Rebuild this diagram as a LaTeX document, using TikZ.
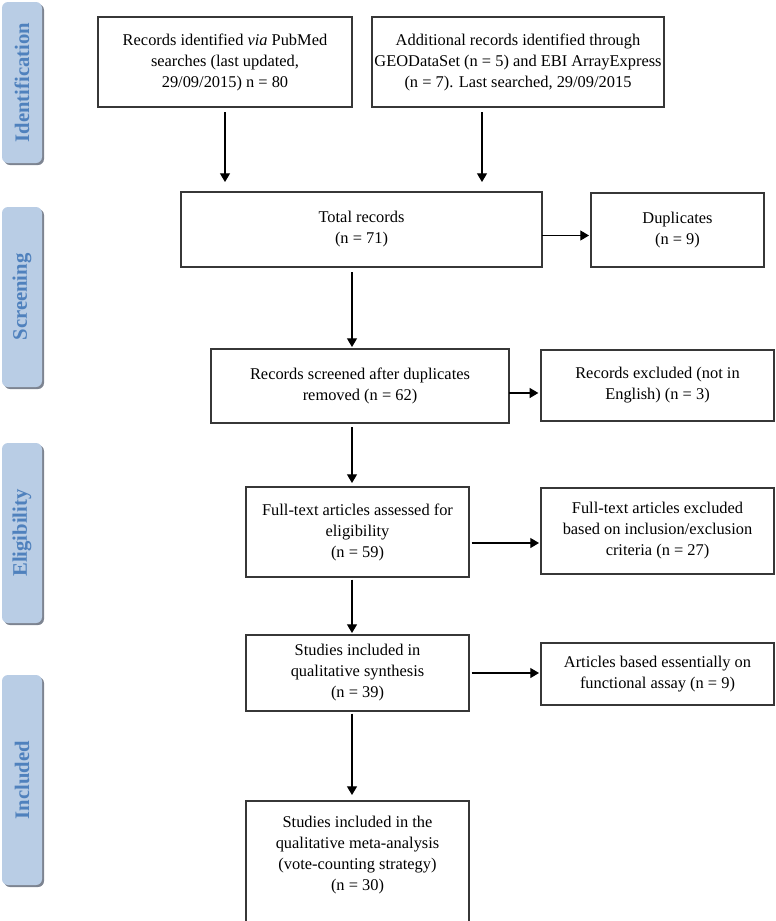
\documentclass[tikz,border=0pt]{standalone}
\usepackage{fontspec}
\setmainfont{Liberation Serif}
\usetikzlibrary{arrows.meta,shadows}

\definecolor{tabfill}{RGB}{185,205,229}
\definecolor{tabtext}{RGB}{79,129,189}
\definecolor{tabshade}{RGB}{125,132,145}
\definecolor{boxline}{RGB}{55,55,55}

\tikzset{
  flowframe/.style={draw=boxline, line width=0.9pt, inner sep=0pt, outer sep=0pt,
    font=\fontsize{12.3pt}{15.75pt}\selectfont},
  flowbox/.style={flowframe, align=center},
  phasetab/.style={fill=tabfill, rounded corners=4.5pt, minimum width=30pt, inner sep=0pt,
    text=tabtext, font=\fontsize{15.5pt}{18pt}\selectfont\bfseries,
    drop shadow={shadow xshift=1.5pt, shadow yshift=-1.5pt, fill=tabshade, opacity=1}},
  flowarrow/.style={-{Triangle[length=6.5pt,width=7.5pt]}, line width=0.8pt, black},
}

\begin{document}
\begin{tikzpicture}[x=0.75pt, y=-0.75pt]
\useasboundingbox (0,0) rectangle (775,921);
\clip (0,0) rectangle (775,921);

% phase tabs
\node[phasetab, minimum height=120.75pt] (ident) at (22,82.5) {\rotatebox{90}{Identification}};
\node[phasetab, minimum height=135pt] (screen) at (22,297) {\rotatebox{90}{Screening}};
\node[phasetab, minimum height=135pt] (elig) at (22,533) {\rotatebox{90}{Eligibility}};
\node[phasetab, minimum height=157.5pt] (incl) at (22,780) {\rotatebox{90}{Included}};

% identification
\node[flowbox, minimum width=190.5pt, minimum height=67.5pt] (pubmed) at (225,62)
  {Records identified \textit{via} PubMed\\ searches (last updated,\\ 29/09/2015) n = 80};
\node[flowbox, minimum width=219pt, minimum height=67.5pt] (addl) at (518,62)
  {Additional records identified through\\ GEODataSet (n = 5) and EBI ArrayExpress\\ (n = 7). Last searched, 29/09/2015};

% screening
\node[flowbox, minimum width=270.75pt, minimum height=56.25pt] (total) at (361.5,229.5)
  {Total records\\ (n = 71)};
\node[flowbox, minimum width=129.75pt, minimum height=55.5pt] (dupl) at (677.5,230)
  {Duplicates\\ (n = 9)};
\node[flowbox, minimum width=223.5pt, minimum height=55.5pt] (screened) at (360,386)
  {Records screened after duplicates\\ removed (n = 62)};
\node[flowbox, minimum width=174.75pt, minimum height=53.25pt] (notEng) at (657.5,385.5)
  {Records excluded (not in\\ English) (n = 3)};

% eligibility
\node[flowbox, minimum width=167.25pt, minimum height=67.5pt] (fulltext) at (357.5,532)
  {Full-text articles assessed for\\ eligibility\\ (n = 59)};
\node[flowbox, minimum width=174.75pt, minimum height=64.5pt] (excl) at (657.5,531)
  {Full-text articles excluded\\ based on inclusion/exclusion\\ criteria (n = 27)};

% included
\node[flowbox, minimum width=167.25pt, minimum height=57pt] (qual) at (357.5,673)
  {Studies included in\\ qualitative synthesis\\ (n = 39)};
\node[flowbox, minimum width=174.75pt, minimum height=46.5pt] (assay) at (657.5,674)
  {Articles based essentially on\\ functional assay (n = 9)};
\node[flowframe, minimum width=167.25pt, minimum height=96.75pt] (meta) at (357.5,865.5)
  {\parbox[c][96.75pt][t]{167pt}{\centering\vspace*{11pt}Studies included in the\\ qualitative meta-analysis\\ (vote-counting strategy)\\ (n = 30)}};

% connectors
\coordinate (spine) at (352,0);
\draw[flowarrow, shorten <=3.75pt, shorten >=7.5pt] (pubmed.south) -- (pubmed.south |- total.north);
\draw[flowarrow, shorten <=3.75pt, shorten >=7.5pt] ([xshift=-27pt]addl.south) -- ([xshift=-27pt]addl.south |- total.north);
\draw[flowarrow, shorten >=1.5pt] ([yshift=-4.5pt]total.east) -- ([yshift=-4.5pt]total.east -| dupl.west);
\draw[flowarrow, shorten <=4pt, shorten >=1.5pt] (spine |- total.south) -- (spine |- screened.north);
\draw[flowarrow, shorten >=2pt] ([yshift=-5.25pt]screened.east) -- ([yshift=-5.25pt]screened.east -| notEng.west);
\draw[flowarrow, shorten <=3pt, shorten >=3pt] (spine |- screened.south) -- (spine |- fulltext.north);
\draw[flowarrow, shorten <=2pt, shorten >=1.5pt] ([yshift=-8.25pt]fulltext.east) -- ([yshift=-8.25pt]fulltext.east -| excl.west);
\draw[flowarrow, shorten <=2pt, shorten >=1.5pt] (spine |- fulltext.south) -- (spine |- qual.north);
\draw[flowarrow, shorten <=2pt, shorten >=1.5pt] (qual.east) -- (qual.east -| assay.west);
\draw[flowarrow, shorten <=2pt, shorten >=4.5pt] (spine |- qual.south) -- (spine |- meta.north);
\end{tikzpicture}
\end{document}
